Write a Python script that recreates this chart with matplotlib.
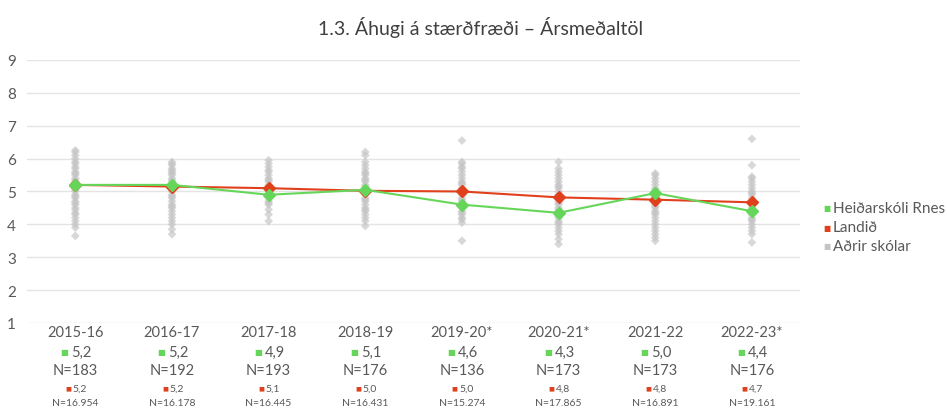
import matplotlib
matplotlib.use("Agg")
import matplotlib.pyplot as plt
import matplotlib.transforms as mtransforms

plt.rcParams['font.family'] = ['Lato', 'DejaVu Sans']

years = ['2015-16', '2016-17', '2017-18', '2018-19', '2019-20*', '2020-21*', '2021-22', '2022-23*']
school = [5.2, 5.2, 4.9, 5.05, 4.6, 4.35, 4.95, 4.4]
national = [5.2, 5.15, 5.1, 5.02, 5.0, 4.82, 4.75, 4.67]
school_lbl = ['5,2', '5,2', '4,9', '5,1', '4,6', '4,3', '5,0', '4,4']
school_n = ['N=183', 'N=192', 'N=193', 'N=176', 'N=136', 'N=173', 'N=173', 'N=176']
national_lbl = ['5,2', '5,2', '5,1', '5,0', '5,0', '4,8', '4,8', '4,7']
national_n = ['N=16.954', 'N=16.178', 'N=16.445', 'N=16.431', 'N=15.274', 'N=17.865', 'N=16.891', 'N=19.161']

# mean values of other schools
others = [
    [3.65, 3.9, 4.0, 4.1, 4.2, 4.3, 4.35, 4.45, 4.5, 4.6, 4.65, 4.7, 4.8, 4.85, 4.9, 5.0, 5.05, 5.1,
     5.15, 5.25, 5.3, 5.35, 5.4, 5.5, 5.55, 5.6, 5.7, 5.75, 5.85, 5.9, 6.0, 6.1, 6.2, 6.25],
    [3.7, 3.85, 4.0, 4.1, 4.2, 4.3, 4.4, 4.5, 4.55, 4.6, 4.7, 4.8, 4.85, 4.9, 5.0, 5.05, 5.1, 5.2,
     5.25, 5.3, 5.35, 5.4, 5.5, 5.55, 5.6, 5.65, 5.7, 5.8, 5.85, 5.9],
    [4.1, 4.3, 4.45, 4.6, 4.65, 4.7, 4.8, 4.85, 4.9, 5.0, 5.05, 5.1, 5.15, 5.2, 5.3, 5.35, 5.4,
     5.5, 5.6, 5.65, 5.75, 5.85, 5.95],
    [3.95, 4.1, 4.2, 4.3, 4.4, 4.45, 4.5, 4.6, 4.7, 4.75, 4.8, 4.9, 4.95, 5.0, 5.1, 5.15, 5.2,
     5.3, 5.35, 5.4, 5.5, 5.55, 5.6, 5.7, 5.8, 5.9, 6.1, 6.2],
    [3.5, 4.05, 4.15, 4.2, 4.3, 4.35, 4.4, 4.5, 4.55, 4.6, 4.7, 4.75, 4.8, 4.9, 5.0, 5.05, 5.1,
     5.2, 5.25, 5.3, 5.4, 5.5, 5.6, 5.7, 5.75, 5.85, 5.9, 6.55],
    [3.4, 3.55, 3.7, 3.8, 3.9, 4.0, 4.05, 4.1, 4.2, 4.25, 4.3, 4.4, 4.45, 4.5, 4.6, 4.65, 4.7,
     4.8, 4.85, 4.9, 5.0, 5.1, 5.15, 5.2, 5.3, 5.4, 5.5, 5.6, 5.7, 5.9],
    [3.5, 3.6, 3.7, 3.8, 3.9, 4.0, 4.1, 4.2, 4.3, 4.35, 4.4, 4.5, 4.55, 4.6, 4.7, 4.8, 4.85,
     4.9, 5.0, 5.05, 5.1, 5.2, 5.3, 5.4, 5.5, 5.55],
    [3.45, 3.7, 3.8, 3.9, 4.0, 4.1, 4.15, 4.2, 4.3, 4.35, 4.4, 4.5, 4.6, 4.65, 4.7, 4.8, 4.9,
     4.95, 5.0, 5.1, 5.2, 5.3, 5.4, 5.45, 5.8, 6.6],
]

green = '#66d65a'
red = '#e0401c'
grey = '#c4c4c4'
txt = '#595959'

fig = plt.figure(figsize=(9.47, 4.1), dpi=100)
ax = fig.add_axes([0.0285, 0.2098, 0.8165, 0.6415])

for i, vals in enumerate(others):
    ax.scatter([i] * len(vals), vals, marker='D', s=20, color=grey, alpha=0.65,
               edgecolors='none', zorder=2, clip_on=False)

xs = range(len(years))
ax.plot(xs, national, color=red, lw=1.5, marker='D', ms=6.5, mec=red, zorder=3)
ax.plot(xs, school, color=green, lw=1.5, marker='D', ms=6.5, mec=green, zorder=4)

ax.set_xlim(-0.5, len(years) - 0.5)
ax.set_ylim(1, 9)
ax.set_yticks(range(1, 10))
ax.set_xticks([])
ax.grid(axis='y', color='#e4e4e4', lw=1)
ax.set_axisbelow(True)
for s in ax.spines.values():
    s.set_visible(False)
ax.tick_params(axis='y', length=0, labelsize=11, labelcolor=txt, pad=8)

trans = mtransforms.blended_transform_factory(ax.transData, fig.transFigure)
for i in xs:
    ax.text(i, 1 - 333 / 410, years[i], transform=trans, ha='center', va='center',
            fontsize=10.5, color=txt)
    ax.annotate('■', (i, 1 - 353 / 410), xycoords=trans, xytext=(-5, 0),
                textcoords='offset points', ha='right', va='center', fontsize=6,
                color=green, family='DejaVu Sans')
    ax.annotate(school_lbl[i], (i, 1 - 353 / 410), xycoords=trans, xytext=(-3, 0),
                textcoords='offset points', ha='left', va='center', fontsize=10.5, color=txt)
    ax.text(i, 1 - 371 / 410, school_n[i], transform=trans, ha='center', va='center',
            fontsize=10.5, color=txt)
    ax.annotate('■', (i, 1 - 389 / 410), xycoords=trans, xytext=(-3, 0),
                textcoords='offset points', ha='right', va='center', fontsize=4.5,
                color=red, family='DejaVu Sans')
    ax.annotate(national_lbl[i], (i, 1 - 389 / 410), xycoords=trans, xytext=(-2, 0),
                textcoords='offset points', ha='left', va='center', fontsize=7.5, color=txt)
    ax.text(i, 1 - 404 / 410, national_n[i], transform=trans, ha='center', va='center',
            fontsize=7.5, color=txt)

fig.text(0.507, 1 - 27 / 410, '1.3. Áhugi á stærðfræði – Ársmeðaltöl', ha='center',
         va='center', fontsize=14, color='#404040')

leg = [('Heiðarskóli Rnes', green), ('Landið', red), ('Aðrir skólar', grey)]
for k, (name, c) in enumerate(leg):
    y = 1 - (209 + 19 * k) / 410
    fig.text(823 / 947, y, '■', color=c, fontsize=5.5, ha='left', va='center', family='DejaVu Sans')
    fig.text(833 / 947, y, name, color=txt, fontsize=11, ha='left', va='center')

fig.savefig('out.png', dpi=100, facecolor='white')
